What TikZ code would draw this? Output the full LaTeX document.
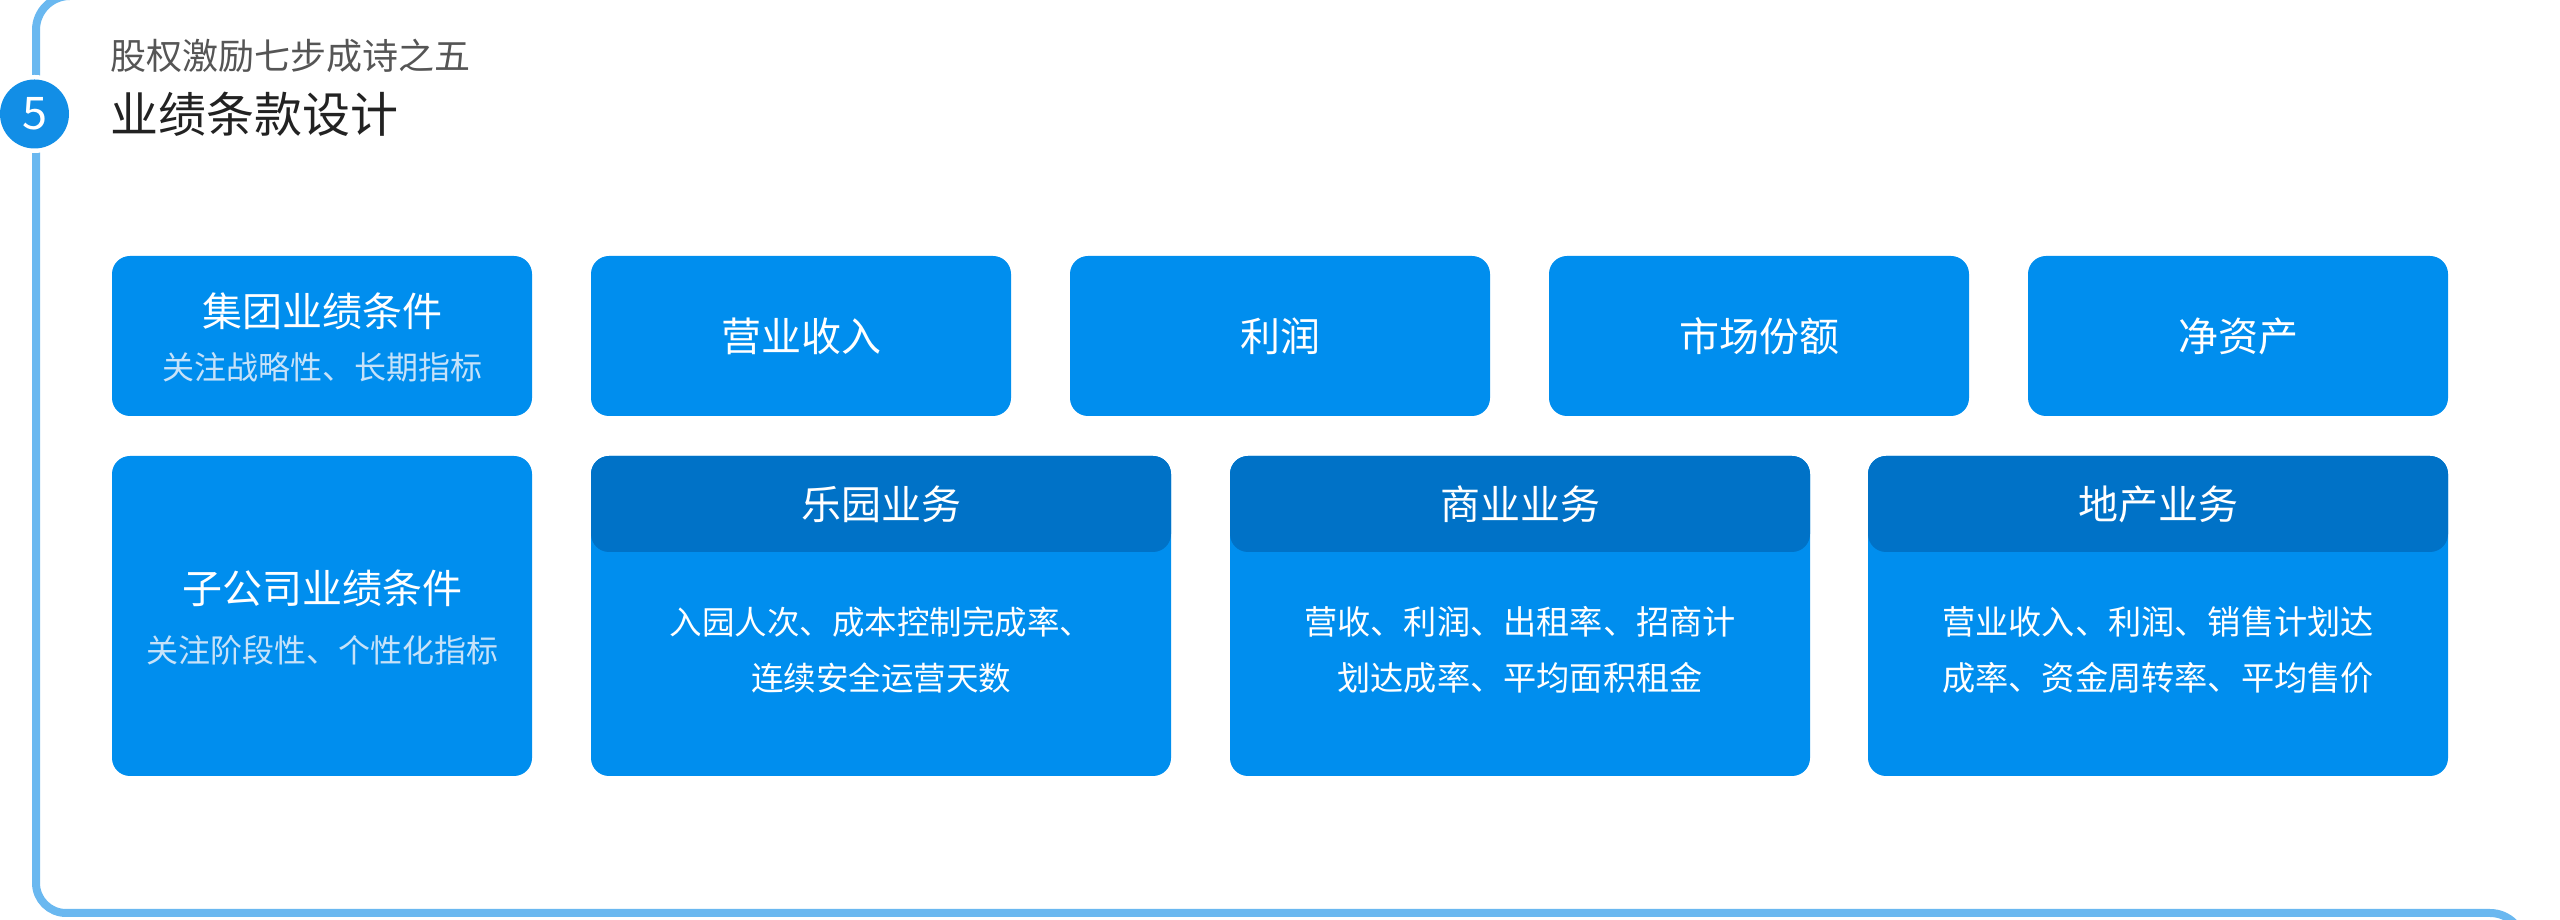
\documentclass[tikz,border=0pt]{standalone}
\usepackage{fontspec}
\setmainfont{Noto Sans CJK SC}
\definecolor{framec}{RGB}{106,184,240}
\definecolor{boxc}{RGB}{0,142,238}
\definecolor{headc}{RGB}{0,114,199}
\definecolor{circc}{RGB}{18,142,230}
\definecolor{subc}{RGB}{198,226,249}
\definecolor{titlec}{RGB}{34,34,34}
\definecolor{supc}{RGB}{85,85,85}
\tikzset{
  framepath/.style={draw=framec, line width=8pt},
  box/.style={fill=boxc, rounded corners=18pt, inner sep=0pt, outer sep=0pt},
  headbox/.style={fill=headc, rounded corners=18pt, inner sep=0pt, outer sep=0pt},
  bigtext/.style={text=white, inner sep=0pt, font=\fontsize{40}{40}\selectfont},
  subtext/.style={text=subc, inner sep=0pt, font=\fontsize{32}{32}\selectfont},
  bodytext/.style={text=white, inner sep=0pt, align=center, font=\fontsize{33.2}{56}\selectfont},
}
\begin{document}
\begin{tikzpicture}[x=1pt,y=1pt]
\useasboundingbox (0,0) rectangle (2560,920);
\clip (0,0) rectangle (2560,920);
% frame
\draw[framepath] (200,924) -- (70,924) arc[start angle=90,end angle=180,radius=34] -- (36,37)
  arc[start angle=180,end angle=270,radius=30] -- (2490,7) arc[start angle=90,end angle=0,radius=34];
% step circle and titles
\fill[white] (34.5,806) circle[radius=39];
\node[circle, fill=circc, minimum size=69pt, inner sep=0pt, text=white,
  font=\fontsize{45}{45}\selectfont] (num) at (34.5,806) {5};
\node[anchor=west, inner sep=0pt, text=supc, font=\fontsize{36}{36}\selectfont] (sup) at (110,864) {股权激励七步成诗之五};
\node[anchor=west, inner sep=0pt, text=titlec, font=\fontsize{48}{48}\selectfont] (ttl) at (110,806) {业绩条款设计};
% row 1
\node[box, anchor=north west, minimum width=420pt, minimum height=160pt] (g1) at (112,664) {};
\node[box, anchor=north west, minimum width=420pt, minimum height=160pt] (g2) at (591,664) {};
\node[box, anchor=north west, minimum width=420pt, minimum height=160pt] (g3) at (1070,664) {};
\node[box, anchor=north west, minimum width=420pt, minimum height=160pt] (g4) at (1549,664) {};
\node[box, anchor=north west, minimum width=420pt, minimum height=160pt] (g5) at (2028,664) {};
\node[bigtext] (g1t) at (322,609) {集团业绩条件};
\node[subtext] (g1s) at (322,553) {关注战略性、长期指标};
\node[bigtext] (g2t) at (g2.center) {营业收入};
\node[bigtext] (g3t) at (g3.center) {利润};
\node[bigtext] (g4t) at (g4.center) {市场份额};
\node[bigtext] (g5t) at (g5.center) {净资产};
% row 2
\node[box, anchor=north west, minimum width=420pt, minimum height=320pt] (s1) at (112,464) {};
\node[bigtext] (s1t) at (322,332) {子公司业绩条件};
\node[subtext] (s1s) at (322,270) {关注阶段性、个性化指标};
\node[box, anchor=north west, minimum width=580pt, minimum height=320pt] (p1) at (591,464) {};
\node[headbox, anchor=north west, minimum width=580pt, minimum height=96pt] (h1) at (591,464) {};
\node[box, anchor=north west, minimum width=580pt, minimum height=320pt] (p2) at (1230,464) {};
\node[headbox, anchor=north west, minimum width=580pt, minimum height=96pt] (h2) at (1230,464) {};
\node[box, anchor=north west, minimum width=580pt, minimum height=320pt] (p3) at (1868,464) {};
\node[headbox, anchor=north west, minimum width=580pt, minimum height=96pt] (h3) at (1868,464) {};
\node[bigtext] (h1t) at (h1.center) {乐园业务};
\node[bigtext] (h2t) at (h2.center) {商业业务};
\node[bigtext] (h3t) at (h3.center) {地产业务};
\node[bodytext, font=\fontsize{32.5}{56}\selectfont] (b1) at (881,270) {入园人次、成本控制完成率、\\连续安全运营天数};
\node[bodytext] (b2) at (1520,270) {营收、利润、出租率、招商计\\划达成率、平均面积租金};
\node[bodytext] (b3) at (2158,270) {营业收入、利润、销售计划达\\成率、资金周转率、平均售价};
\end{tikzpicture}
\end{document}
